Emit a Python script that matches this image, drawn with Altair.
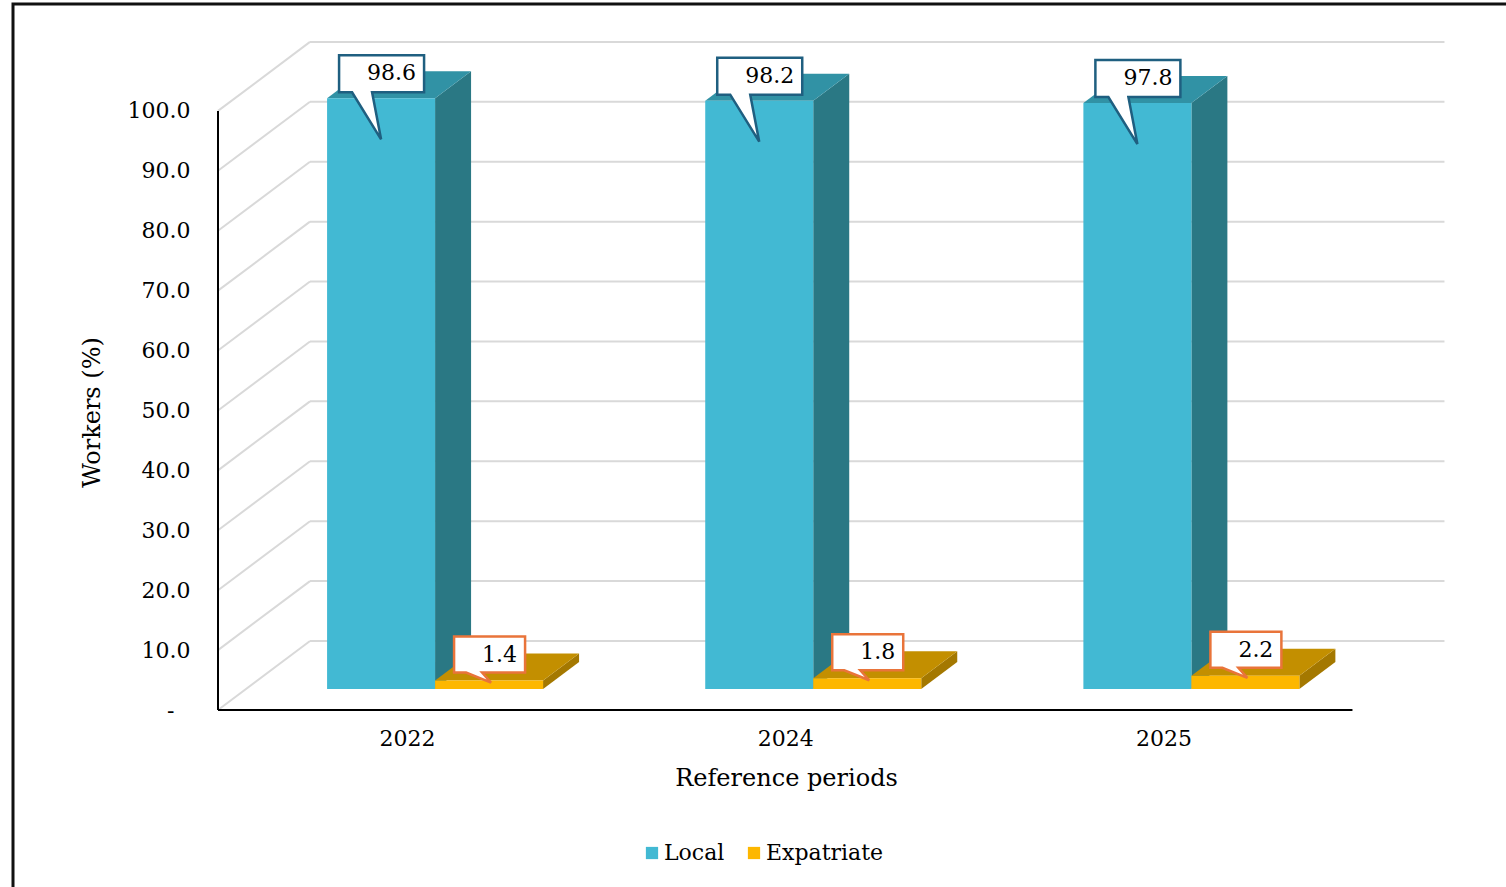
import altair as alt
import pandas as pd

# ---------------- data ----------------
periods = ["2022", "2024", "2025"]
local_pct = [98.6, 98.2, 97.8]
expat_pct = [1.4, 1.8, 2.2]
series_names = ["Local", "Expatriate"]
y_ticks = [0, 10, 20, 30, 40, 50, 60, 70, 80, 90, 100]

# ---------------- style / geometry ----------------
FONT = "DejaVu Serif"
W, H = 1229, 668
X_MAX, Y_MAX = 3.25, 111.5
PX_X = W / X_MAX
PX_Y = H / Y_MAX


def ox(px):
    return px / PX_X


def oy(px):
    return px / PX_Y


BW = ox(108)                   # bar width
FDX, FDY = ox(28), oy(21)      # bar front plane offset (depth)
BDX, BDY = ox(36), oy(27)      # bar depth
WDX, WDY = ox(92), oy(69)      # back wall offset

COLORS = {
    "Local": {"front": "#42B9D3", "top": "#3192A5", "side": "#2A7884",
              "callout": "#1F5F80",
              "shape": "M -42 -43 L 43 -43 L 43 -6 L -9 -6 L 0 41 L -29 -6 L -42 -6 Z",
              "dx": 35, "dy": -25},
    "Expatriate": {"front": "#FDB700", "top": "#C38F00", "side": "#A47800",
                   "callout": "#E9743A",
                   "shape": "M -35 -44 L 36 -44 L 36 -8 L -7 -8 L 2 2 L -23 -8 L -35 -8 Z",
                   "dx": 28, "dy": -26},
}

xs = alt.Scale(domain=[0, X_MAX], nice=False, zero=False)
ys = alt.Scale(domain=[0, Y_MAX], nice=False, zero=False)

label_expr_x = "datum.value < 1 ? '%s' : datum.value < 2 ? '%s' : '%s'" % tuple(periods)
label_expr_y = "datum.value == 0 ? '-' : format(datum.value, '.1f')"

X_AXIS = alt.Axis(
    values=[0.5, 1.5, 2.5], labelExpr=label_expr_x, title="Reference periods",
    domain=False, ticks=False, tickSize=0, grid=False, labelPadding=18,
    labelFont=FONT, labelFontSize=22, labelColor="#000000",
    titleFont=FONT, titleFontSize=24, titleFontWeight="normal", titleColor="#000000",
    titleX=568, titleY=68, titleAlign="center", titleBaseline="middle")
Y_AXIS = alt.Axis(
    values=y_ticks, labelExpr=label_expr_y, title="Workers (%)",
    domain=False, ticks=False, tickSize=0, grid=False,
    labelPadding={"condition": {"test": "datum.value == 0", "value": 44}, "value": 28},
    labelFont=FONT, labelFontSize=22, labelColor="#000000",
    titleFont=FONT, titleFontSize=24, titleFontWeight="normal", titleColor="#000000",
    titleX=-126, titleY=370, titleAngle=-90, titleAlign="center",
    titleBaseline="middle")


def X(field):
    return alt.X(field, scale=xs, axis=X_AXIS)


def Y(field):
    return alt.Y(field, scale=ys, axis=Y_AXIS)


# ---------------- frame ----------------
frame = alt.Chart(pd.DataFrame({"a": [0]})).mark_rect(
    fill="white", fillOpacity=0, stroke="#111111", strokeWidth=3
).encode(x=alt.value(-205), x2=alt.value(1400), y=alt.value(-38), y2=alt.value(1000))

# ---------------- walls ----------------
grid_df = pd.DataFrame({"v": y_ticks})
grid_df["x_a"] = WDX
grid_df["x_b"] = 3 + WDX
grid_df["y_w"] = grid_df["v"] + WDY
grid_df["x_0"] = 0.0

wall_h = alt.Chart(grid_df).mark_rule(color="#D9D9D9", strokeWidth=2).encode(
    x=X("x_a:Q"), x2="x_b:Q", y=Y("y_w:Q"))
wall_d = alt.Chart(grid_df).mark_rule(color="#D9D9D9", strokeWidth=2).encode(
    x=X("x_0:Q"), x2="x_a:Q", y=Y("v:Q"), y2="y_w:Q")

axis_df = pd.DataFrame({"x0": [0.0], "x1": [3.0], "y0": [0.0], "y1": [100.0]})
axis_v = alt.Chart(axis_df).mark_rule(color="#000000", strokeWidth=2).encode(
    x=X("x0:Q"), y=Y("y0:Q"), y2="y1:Q")
axis_h = alt.Chart(axis_df).mark_rule(color="#000000", strokeWidth=2).encode(
    x=X("x0:Q"), x2="x1:Q", y=Y("y0:Q"))

# ---------------- bars ----------------
layers = [frame, wall_h, wall_d, axis_v, axis_h]
callouts = []

for s_i, (name, vals) in enumerate(zip(series_names, [local_pct, expat_pct])):
    c = COLORS[name]
    front_rows, side_rows, top_rows, call_rows = [], [], [], []
    for i, (p, v) in enumerate(zip(periods, vals)):
        center = i + 0.5
        if s_i == 0:
            x0, x1 = center - BW + FDX, center + FDX
        else:
            x0, x1 = center + FDX, center + BW + FDX
        y0, y1 = FDY, FDY + v
        front_rows.append({"series": name, "period": p, "x0": x0, "x1": x1, "y0": y0, "y1": y1})
        side_rows += [
            {"bar": p, "x": x1, "lo": y0, "hi": y1},
            {"bar": p, "x": x1 + BDX, "lo": y0 + BDY, "hi": y1 + BDY},
        ]
        top_rows += [
            {"bar": p, "x": x0, "lo": y1, "hi": y1},
            {"bar": p, "x": x0 + BDX, "lo": y1, "hi": y1 + BDY},
            {"bar": p, "x": x1, "lo": y1, "hi": y1 + BDY},
            {"bar": p, "x": x1 + BDX, "lo": y1 + BDY, "hi": y1 + BDY},
        ]
        call_rows.append({"x": (x0 + x1) / 2, "y": y1, "label": f"{v:.1f}"})

    side = alt.Chart(pd.DataFrame(side_rows)).mark_area(color=c["side"]).encode(
        x=X("x:Q"), y=Y("lo:Q"), y2="hi:Q", detail="bar:N")
    top = alt.Chart(pd.DataFrame(top_rows)).mark_area(color=c["top"]).encode(
        x=X("x:Q"), y=Y("lo:Q"), y2="hi:Q", detail="bar:N")

    front = alt.Chart(pd.DataFrame(front_rows)).mark_rect().encode(
        x=X("x0:Q"), x2="x1:Q", y=Y("y0:Q"), y2="y1:Q",
        color=alt.Color("series:N", title=None,
                        scale=alt.Scale(domain=series_names,
                                        range=[COLORS[n]["front"] for n in series_names]),
                        legend=alt.Legend(orient="none", legendX=423, legendY=800,
                                          direction="horizontal", symbolType="square",
                                          symbolSize=150, symbolStrokeWidth=0,
                                          labelFont=FONT, labelFontSize=22,
                                          labelColor="#000000", labelOffset=1,
                                          columnPadding=18)))
    layers += [side, top, front]

    cdf = pd.DataFrame(call_rows)
    box = alt.Chart(cdf).mark_point(
        shape=c["shape"], size=4, filled=True, fill="white", opacity=1,
        stroke=c["callout"], strokeWidth=2.5).encode(x=X("x:Q"), y=Y("y:Q"))
    txt = alt.Chart(cdf).mark_text(
        align="right", baseline="middle", dx=c["dx"], dy=c["dy"],
        font=FONT, fontSize=22, color="#000000").encode(
        x=X("x:Q"), y=Y("y:Q"), text="label:N")
    callouts += [box, txt]

chart = alt.layer(*(layers + callouts)).properties(
    width=W, height=H,
    autosize=alt.AutoSizeParams(type="none"),
    padding={"left": 218, "top": 42, "right": 59, "bottom": 177},
    background="white",
).configure_view(stroke=None)

chart.save("out.html", embed_options={"renderer": "svg", "actions": False})
